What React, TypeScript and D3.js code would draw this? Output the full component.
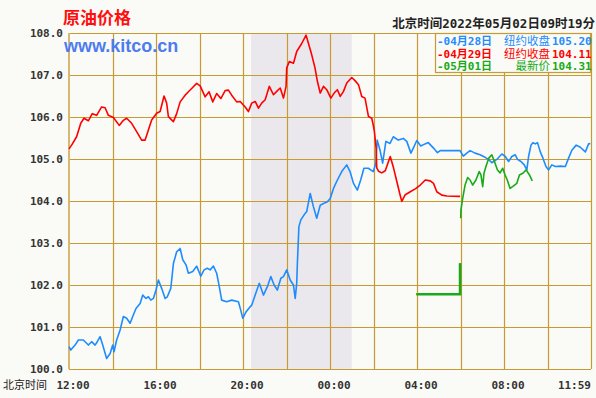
import React, { useRef, useEffect } from 'react';
import * as d3 from 'd3';

// ── Data (hours after 12:00 Beijing time, price USD) ─────────────────────────
const BLUE_T = [0.00, 0.08, 0.28, 0.43, 0.66, 0.89, 1.04, 1.20, 1.30, 1.43, 1.55, 1.73, 1.89, 2.01, 2.07, 2.19, 2.35, 2.50, 2.65, 2.81, 2.93, 3.08, 3.27, 3.39, 3.54, 3.65, 3.76, 3.88, 4.00, 4.11, 4.26, 4.42, 4.52, 4.68, 4.80, 4.95, 5.11, 5.23, 5.38, 5.49, 5.69, 5.87, 6.06, 6.21, 6.36, 6.49, 6.64, 6.79, 6.91, 7.02, 7.25, 7.48, 7.79, 7.87, 7.99, 8.14, 8.33, 8.40, 8.56, 8.75, 8.94, 9.12, 9.28, 9.43, 9.58, 9.74, 9.86, 10.01, 10.17, 10.32, 10.40, 10.47, 10.50, 10.57, 10.66, 10.81, 10.93, 11.09, 11.24, 11.39, 11.55, 11.70, 11.88, 12.01, 12.16, 12.34, 12.54, 12.77, 12.92, 13.08, 13.26, 13.41, 13.56, 13.76, 13.99, 14.11, 14.17, 14.30, 14.42, 14.57, 14.76, 14.91, 15.14, 15.37, 15.53, 15.72, 15.83, 15.99, 16.17, 16.37, 16.52, 16.76, 16.94, 17.07, 17.98, 18.13, 18.29, 18.44, 18.67, 18.90, 19.13, 19.29, 19.44, 19.67, 19.90, 20.06, 20.21, 20.36, 20.52, 20.62, 20.78, 20.93, 21.05, 21.13, 21.24, 21.33, 21.44, 21.54, 21.67, 21.79, 21.93, 22.05, 22.20, 22.36, 22.59, 22.82, 22.97, 23.12, 23.32, 23.51, 23.74, 23.89, 23.97];
const BLUE_V = [100.53, 100.45, 100.57, 100.69, 100.69, 100.57, 100.65, 100.57, 100.65, 100.77, 100.57, 100.25, 100.37, 100.57, 100.41, 100.69, 100.93, 101.25, 101.21, 101.09, 101.25, 101.44, 101.56, 101.76, 101.68, 101.72, 101.64, 101.68, 101.88, 102.12, 101.92, 101.68, 101.72, 101.92, 102.51, 102.79, 102.87, 102.60, 102.48, 102.28, 102.32, 102.45, 102.21, 102.36, 102.40, 102.36, 102.45, 102.28, 101.96, 101.64, 101.60, 101.64, 101.60, 101.45, 101.21, 101.36, 101.48, 101.52, 101.76, 102.04, 101.76, 101.96, 102.20, 102.00, 101.88, 102.16, 102.20, 102.36, 102.12, 102.00, 101.68, 102.04, 102.51, 103.39, 103.55, 103.67, 103.75, 104.18, 103.86, 103.59, 103.90, 103.94, 103.98, 104.06, 104.30, 104.50, 104.70, 104.86, 104.70, 104.42, 104.26, 104.50, 104.78, 104.78, 104.70, 104.90, 105.45, 105.21, 104.90, 105.42, 105.37, 105.53, 105.45, 105.49, 105.42, 105.14, 105.26, 105.44, 105.31, 105.36, 105.39, 105.26, 105.15, 105.20, 105.20, 105.07, 105.14, 105.20, 105.14, 105.10, 105.04, 104.99, 104.91, 104.99, 105.12, 105.06, 104.94, 105.06, 105.10, 104.99, 104.94, 104.86, 104.74, 105.06, 105.33, 105.39, 105.36, 105.39, 105.17, 105.02, 104.82, 104.74, 104.86, 104.82, 104.83, 104.82, 105.02, 105.21, 105.33, 105.28, 105.17, 105.36, 105.37];

const RED_T = [0.00, 0.12, 0.35, 0.54, 0.69, 0.89, 1.07, 1.27, 1.50, 1.66, 1.81, 2.04, 2.31, 2.50, 2.65, 2.88, 3.11, 3.34, 3.50, 3.65, 3.80, 4.03, 4.19, 4.37, 4.49, 4.57, 4.80, 4.95, 5.11, 5.34, 5.49, 5.64, 5.87, 6.03, 6.26, 6.44, 6.61, 6.79, 6.98, 7.18, 7.33, 7.48, 7.71, 7.87, 8.10, 8.25, 8.40, 8.56, 8.71, 8.86, 9.02, 9.21, 9.40, 9.55, 9.71, 9.86, 9.98, 10.01, 10.13, 10.32, 10.47, 10.70, 10.90, 11.01, 11.16, 11.31, 11.42, 11.55, 11.70, 11.85, 12.04, 12.19, 12.34, 12.47, 12.62, 12.77, 13.00, 13.16, 13.31, 13.46, 13.61, 13.77, 13.92, 14.00, 14.04, 14.12, 14.15, 14.23, 14.38, 14.54, 14.77, 14.92, 15.07, 15.22, 15.30, 15.46, 15.69, 15.92, 16.15, 16.38, 16.61, 16.76, 16.91, 17.14, 17.37, 17.98];
const RED_V = [105.24, 105.33, 105.53, 105.85, 105.97, 105.91, 106.08, 106.04, 106.24, 106.22, 106.04, 105.99, 105.80, 105.92, 105.97, 105.85, 105.65, 105.45, 105.45, 105.69, 105.93, 106.09, 106.13, 106.50, 106.33, 106.01, 105.89, 106.08, 106.36, 106.52, 106.60, 106.68, 106.80, 106.74, 106.48, 106.60, 106.36, 106.56, 106.44, 106.63, 106.64, 106.52, 106.36, 106.37, 106.24, 106.13, 106.33, 106.37, 106.21, 106.33, 106.41, 106.73, 106.53, 106.61, 106.69, 106.45, 106.73, 107.17, 107.32, 107.28, 107.56, 107.75, 107.95, 107.75, 107.48, 107.17, 106.85, 106.57, 106.73, 106.65, 106.45, 106.57, 106.65, 106.49, 106.61, 106.81, 106.94, 106.86, 106.77, 106.49, 106.45, 106.01, 105.97, 105.78, 105.66, 105.26, 104.79, 104.71, 104.67, 104.72, 105.06, 104.79, 104.47, 104.15, 103.99, 104.15, 104.22, 104.29, 104.38, 104.50, 104.48, 104.42, 104.22, 104.14, 104.12, 104.11];

// null marks the gap between the pre-open level and the live quotes
const GREEN_T = [15.97, 17.98, 17.98, 18.00, 18.01, 18.02, 18.10, 18.21, 18.33, 18.44, 18.56, 18.71, 18.86, 18.94, 19.02, 19.08, 19.17, 19.30, 19.44, 19.56, 19.70, 19.82, 19.94, 20.05, 20.15, 20.28, 20.44, 20.59, 20.71, 20.87, 21.02, 21.17, 21.30];
const GREEN_V = [101.78, 101.78, 102.52, null, 103.59, 103.79, 104.06, 104.38, 104.56, 104.50, 104.38, 104.50, 104.70, 104.62, 104.34, 104.66, 104.82, 105.02, 105.10, 104.94, 104.74, 104.67, 104.78, 104.62, 104.50, 104.30, 104.36, 104.42, 104.62, 104.66, 104.74, 104.62, 104.48];

const Y_TICKS = [100, 101, 102, 103, 104, 105, 106, 107, 108];
const X_TICKS = [0, 4, 8, 12, 16, 20, 23.98];
const X_TICK_LABELS = ['12:00', '16:00', '20:00', '00:00', '04:00', '08:00', '11:59'];
const SHADE = [8.37, 13.0];

const LEGEND_DATES = ['-04月28日', '-04月29日', '-05月01日'];
const LEGEND_NAMES = ['纽约收盘', '纽约收盘', '最新价'];
const LEGEND_PRICES = ['105.20', '104.11', '104.31'];
const COLORS = ['#1e8cff', '#ff0000', '#18aa18'];

const W = 596;
const H = 398;
const MONO = '"DejaVu Sans Mono", "Noto Sans CJK SC", monospace';
const CJK = '"Noto Sans CJK SC", sans-serif';
const GRID = '#c79b32';

export default function App() {
  const svgRef = useRef<SVGSVGElement>(null);

  useEffect(() => {
    if (!svgRef.current) return;
    const svg = d3.select(svgRef.current);
    svg.selectAll('*').remove();

    const x = d3.scaleLinear().domain([0, 24]).range([69, 591]);
    const y = d3.scaleLinear().domain([100, 108]).range([369, 33]);

    svg.append('rect').attr('width', W).attr('height', H).attr('fill', '#fafbf6');

    // shaded session band
    svg.append('rect')
      .attr('x', x(SHADE[0])).attr('y', y(108))
      .attr('width', x(SHADE[1]) - x(SHADE[0])).attr('height', y(100) - y(108))
      .attr('fill', '#ebe8ed');

    // ── Grid ──────────────────────────────────────────────────────────────────
    const grid = svg.append('g').attr('stroke', GRID).attr('stroke-width', 1.2);
    Y_TICKS.forEach(v => {
      grid.append('line').attr('x1', x(0)).attr('x2', x(24))
        .attr('y1', Math.round(y(v)) + 0.5).attr('y2', Math.round(y(v)) + 0.5);
    });
    d3.range(1, 13).forEach(i => {
      grid.append('line').attr('x1', Math.round(x(i * 2)) + 0.5).attr('x2', Math.round(x(i * 2)) + 0.5)
        .attr('y1', y(108)).attr('y2', y(100));
    });
    svg.append('line').attr('x1', x(0)).attr('x2', x(0)).attr('y1', y(108)).attr('y2', y(100))
      .attr('stroke', '#d6b873').attr('stroke-width', 2);

    // ── Y labels ──────────────────────────────────────────────────────────────
    Y_TICKS.forEach(v => {
      svg.append('text').attr('x', 63).attr('y', y(v) + 4).attr('text-anchor', 'end')
        .attr('font-family', MONO).attr('font-size', 11).attr('font-weight', 'bold')
        .attr('fill', '#333').text(v.toFixed(1));
    });

    // ── X labels ──────────────────────────────────────────────────────────────
    X_TICKS.forEach((t, i) => {
      const last = i === X_TICKS.length - 1;
      svg.append('text').attr('x', last ? 591 : x(t) + 4).attr('y', 389)
        .attr('text-anchor', last ? 'end' : 'middle')
        .attr('font-family', MONO).attr('font-size', 11).attr('font-weight', 'bold')
        .attr('fill', '#333').text(X_TICK_LABELS[i]);
    });
    svg.append('text').attr('x', 3).attr('y', 389).attr('font-family', CJK)
      .attr('font-size', 11).attr('fill', '#222').text('北京时间');

    // ── Lines ─────────────────────────────────────────────────────────────────
    const line = d3.line<[number, number | null]>()
      .defined(d => d[1] !== null)
      .x(d => x(d[0])).y(d => y(d[1] as number));

    const series: [number[], (number | null)[], string][] = [
      [BLUE_T, BLUE_V, COLORS[0]],
      [RED_T, RED_V, COLORS[1]],
      [GREEN_T, GREEN_V, COLORS[2]],
    ];
    series.forEach(([ts, vs, c]) => {
      const pts = ts.map((t, i) => [t, vs[i]] as [number, number | null]);
      svg.append('path').attr('d', line(pts)).attr('fill', 'none')
        .attr('stroke', c).attr('stroke-width', 1.6).attr('stroke-linejoin', 'round');
    });
    // pre-open level drawn heavier
    const flat = GREEN_T.slice(0, 3).map((t, i) => [t, GREEN_V[i]] as [number, number | null]);
    svg.append('path').attr('d', line(flat)).attr('fill', 'none')
      .attr('stroke', COLORS[2]).attr('stroke-width', 2.6);

    // ── Titles ────────────────────────────────────────────────────────────────
    svg.append('text').attr('x', 63).attr('y', 24).attr('font-family', CJK)
      .attr('font-size', 17).attr('font-weight', 'bold').attr('fill', '#ff1010').text('原油价格');
    svg.append('text').attr('x', 64).attr('y', 52).attr('font-family', '"Liberation Sans", Arial, sans-serif')
      .attr('font-size', 18).attr('font-weight', 'bold').attr('fill', '#4d7cf0').text('www.kitco.cn');
    svg.append('text').attr('x', 595).attr('y', 28).attr('text-anchor', 'end')
      .attr('font-family', MONO).attr('font-size', 12.5).attr('font-weight', 'bold')
      .attr('fill', '#222').text('北京时间2022年05月02日09时19分');

    // ── Legend ────────────────────────────────────────────────────────────────
    svg.append('rect').attr('x', 435.5).attr('y', 33.5).attr('width', 155).attr('height', 39)
      .attr('fill', '#fafbf6').attr('stroke', GRID).attr('stroke-width', 1.2);
    LEGEND_DATES.forEach((d, i) => {
      const yy = 45 + i * 12.5;
      const g = svg.append('g').attr('fill', COLORS[i]);
      g.append('text').attr('x', 437).attr('y', yy).attr('font-family', MONO)
        .attr('font-size', 11).attr('font-weight', 'bold').text(d);
      g.append('text').attr('x', 550).attr('y', yy).attr('text-anchor', 'end')
        .attr('font-family', CJK).attr('font-size', 11.5).text(LEGEND_NAMES[i]);
      g.append('text').attr('x', 552).attr('y', yy).attr('font-family', MONO)
        .attr('font-size', 11).attr('font-weight', 'bold').text(LEGEND_PRICES[i]);
    });
  }, []);

  return (
    <div style={{ position: 'fixed', left: 0, top: 0 }}>
      <svg ref={svgRef} width={W} height={H} style={{ display: 'block' }} />
    </div>
  );
}
